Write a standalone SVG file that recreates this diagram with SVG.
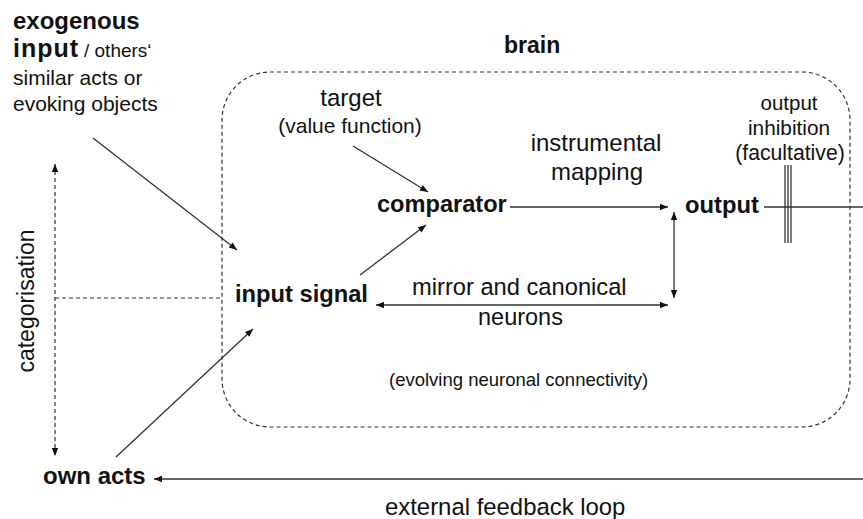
<svg xmlns="http://www.w3.org/2000/svg" width="863" height="519" viewBox="0 0 863 519">
<defs>
<marker id="ah" viewBox="0 0 10 10" refX="10" refY="5" markerWidth="9" markerHeight="8" markerUnits="userSpaceOnUse" orient="auto-start-reverse">
<path d="M0,1 L10,5 L0,9 z" fill="#111"/>
</marker>
<style>
text{font-family:"Liberation Sans",Arial,sans-serif;fill:#111}
.b{font-weight:bold}
.ln{stroke:#333;stroke-width:1.3;fill:none}
.dash{stroke:#333;stroke-width:1.2;fill:none;stroke-dasharray:4,3}
</style>
</defs>
<rect width="863" height="519" fill="#fff"/>
<rect class="dash" x="222" y="72" width="628" height="355" rx="48" ry="48"/>
<g id="connectors">
<line class="ln" x1="93" y1="138" x2="237" y2="250" marker-end="url(#ah)"/>
<line class="ln" x1="353" y1="146" x2="428" y2="192" marker-end="url(#ah)"/>
<line class="ln" x1="360" y1="275" x2="426" y2="225" marker-end="url(#ah)"/>
<line class="ln" x1="116" y1="457" x2="253" y2="329" marker-end="url(#ah)"/>
<line class="ln" x1="510" y1="207" x2="668" y2="207" marker-end="url(#ah)"/>
<line class="ln" x1="674" y1="212" x2="674" y2="298" marker-start="url(#ah)" marker-end="url(#ah)"/>
<line class="ln" x1="376" y1="305" x2="668" y2="305" marker-start="url(#ah)" marker-end="url(#ah)"/>
<line class="ln" x1="764" y1="207" x2="863" y2="207"/>
<line class="ln" x1="785" y1="165" x2="785" y2="243"/>
<line class="ln" x1="788" y1="165" x2="788" y2="243"/>
<line class="ln" x1="791" y1="165" x2="791" y2="243"/>
<line class="ln" x1="863" y1="479" x2="154" y2="479" marker-end="url(#ah)"/>
<line class="dash" x1="55" y1="164" x2="55" y2="456" marker-start="url(#ah)" marker-end="url(#ah)"/>
<line class="dash" x1="55" y1="298" x2="222" y2="298"/>
</g>
<g id="exogenous">
<text class="b" x="13" y="29" font-size="24">exogenous</text>
<text class="b" x="13" y="57" font-size="25" letter-spacing="1">input</text>
<text x="84" y="57" font-size="19">/ others‘</text>
<text x="13" y="85" font-size="21">similar acts or</text>
<text x="13" y="111" font-size="21">evoking objects</text>
</g>
<g id="brain"><text class="b" x="504" y="53" font-size="23">brain</text></g>
<g id="target">
<text x="351" y="106" font-size="24" text-anchor="middle">target</text>
<text x="350" y="133" font-size="21" text-anchor="middle">(value function)</text>
</g>
<g id="mapping">
<text x="596" y="151" font-size="24" text-anchor="middle">instrumental</text>
<text x="597" y="180" font-size="24" text-anchor="middle">mapping</text>
</g>
<g id="comparator"><text class="b" x="377" y="212" font-size="23.6">comparator</text></g>
<g id="output"><text class="b" x="685" y="213" font-size="23.8">output</text></g>
<g id="inhibition">
<text x="789" y="110" font-size="20.5" text-anchor="middle">output</text>
<text x="789" y="135" font-size="20.8" text-anchor="middle">inhibition</text>
<text x="790" y="160" font-size="21.2" text-anchor="middle">(facultative)</text>
</g>
<g id="input-signal"><text class="b" x="235" y="302" font-size="23.7">input signal</text></g>
<g id="mirror">
<text x="412" y="295" font-size="23.7">mirror and canonical</text>
<text x="478" y="325" font-size="23.5">neurons</text>
</g>
<g id="evolving"><text x="389" y="386" font-size="18.5">(evolving neuronal connectivity)</text></g>
<g id="own-acts"><text class="b" x="43" y="484" font-size="24">own acts</text></g>
<g id="feedback"><text x="385" y="515" font-size="23.9">external feedback loop</text></g>
<g id="categorisation"><text x="0" y="0" font-size="23" text-anchor="middle" transform="translate(34,301) rotate(-90)">categorisation</text></g>
</svg>
